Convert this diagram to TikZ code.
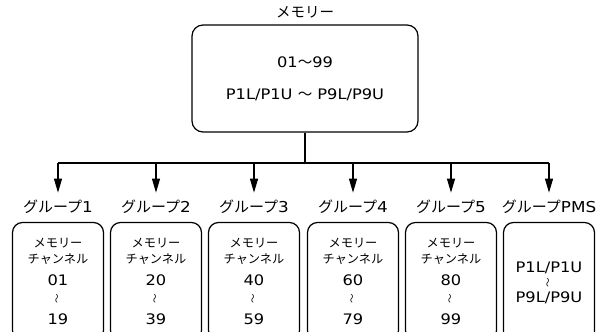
\documentclass[tikz,border=0pt]{standalone}
\usepackage{fontspec}
\setmainfont[FakeStretch=1.12]{DejaVu Sans}
\newfontfamily\jp{Noto Sans CJK JP}
\usetikzlibrary{arrows.meta}

\newcommand{\vtilde}{{\jp\fontsize{9.5}{10}\selectfont\rotatebox{90}{〜}}}
\newcommand{\kana}[1]{{\jp\fontsize{12.2}{12}\selectfont #1}}

\begin{document}
\begin{tikzpicture}[x=1pt, y=-1pt, line width=1.1pt,
	membox/.style={draw, line width=1.2pt, rounded corners=11pt, minimum width=226pt, minimum height=107pt, align=center, font=\fontsize{14.5}{32}\selectfont},
	grpbox/.style={draw, line width=1.2pt, rounded corners=10pt, minimum width=91pt, minimum height=118pt, align=center, font=\fontsize{14.5}{18}\selectfont},
	grplab/.style={font=\fontsize{15}{16}\selectfont, inner sep=0pt},
	arr/.style={-{Triangle[length=14pt, width=8pt]}, shorten >=7pt}]
	\useasboundingbox (0,0) rectangle (611,332);
	
	% memory
	\node[grplab, font=\jp\fontsize{14.5}{16}\selectfont] (memlab) at (305,12) {メモリー};
	\node[membox] (mem) at (305,78.5) {01{\jp 〜}99\\P1L/P1U {\jp 〜} P9L/P9U};
	
	% groups
	\node[grplab] (g1lab) at (58,207) {{\jp グループ}1};
	\node[grplab] (g2lab) at (156,207) {{\jp グループ}2};
	\node[grplab] (g3lab) at (254,207) {{\jp グループ}3};
	\node[grplab] (g4lab) at (353,207) {{\jp グループ}4};
	\node[grplab] (g5lab) at (451,207) {{\jp グループ}5};
	\node[grplab] (g6lab) at (549,207) {{\jp グループ}PMS};
	
	\node[grpbox] (g1) at (58,281.5) {\kana{メモリー}\\[-2pt]\kana{チャンネル}\\[4pt]01\\\vtilde\\[3pt]19};
	\node[grpbox] (g2) at (156,281.5) {\kana{メモリー}\\[-2pt]\kana{チャンネル}\\[4pt]20\\\vtilde\\[3pt]39};
	\node[grpbox] (g3) at (254,281.5) {\kana{メモリー}\\[-2pt]\kana{チャンネル}\\[4pt]40\\\vtilde\\[3pt]59};
	\node[grpbox] (g4) at (353,281.5) {\kana{メモリー}\\[-2pt]\kana{チャンネル}\\[4pt]60\\\vtilde\\[3pt]79};
	\node[grpbox] (g5) at (451,281.5) {\kana{メモリー}\\[-2pt]\kana{チャンネル}\\[4pt]80\\\vtilde\\[3pt]99};
	\node[grpbox, font=\fontsize{14.5}{15}\selectfont, minimum height=120pt] (g6) at (549,282.5) {P1L/P1U\\\vtilde\\P9L/P9U};
	
	% connectors
	\coordinate (jn) at (305,163);
	\draw (mem) -- (jn);
	\draw (jn -| g1lab) -- (jn -| g6lab);
	\draw[arr] (jn -| g1lab) -- (g1lab.north);
	\draw[arr] (jn -| g2lab) -- (g2lab.north);
	\draw[arr] (jn -| g3lab) -- (g3lab.north);
	\draw[arr] (jn -| g4lab) -- (g4lab.north);
	\draw[arr] (jn -| g5lab) -- (g5lab.north);
	\draw[arr] (jn -| g6lab) -- (g6lab.north);
\end{tikzpicture}
\end{document}
